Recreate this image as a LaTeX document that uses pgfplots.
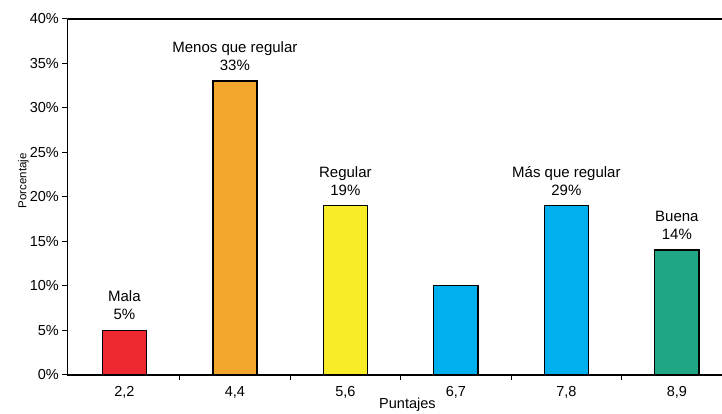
\documentclass[border=0pt]{standalone}
\usepackage{pgfplots}
\pgfplotsset{compat=1.18}
\usepackage{fontspec}
\setmainfont{Liberation Sans}
\definecolor{cred}{RGB}{237,41,47}
\definecolor{corange}{RGB}{243,167,45}
\definecolor{cyellow}{RGB}{248,236,40}
\definecolor{cblue}{RGB}{0,175,236}
\definecolor{cgreen}{RGB}{32,166,132}
\begin{document}
\begin{tikzpicture}[x=1pt,y=1pt]
\useasboundingbox (0,0) rectangle (722,413);
\begin{axis}[
  at={(61,43)}, anchor=south west,
  scale only axis, width=672pt, height=356pt,
  xmin=-0.516, xmax=5.566, ymin=0, ymax=40,
  ybar, bar width=0.4, bar shift=0pt,
  axis x line*=bottom, axis y line*=left,
  x axis line style={line width=1.8pt},
  y axis line style={line width=1.3pt},
  tick align=outside,
  xtick={0,1,2,3,4,5},
  xticklabels={{2,2},{4,4},{5,6},{6,7},{7,8},{8,9}},
  xticklabel style={yshift=-3pt},
  major x tick style={draw=none},
  minor xtick={0.5,1.5,2.5,3.5,4.5,5.5},
  minor x tick style={line width=0.8pt, black},
  minor tick length=5pt,
  ytick={0,5,...,40},
  yticklabel={\pgfmathprintnumber{\tick}\%},
  major y tick style={line width=0.8pt, black},
  major tick length=5pt,
  /pgf/number format/assume math mode=true,
  ticklabel style={font=\fontsize{14.5}{16}\selectfont},
  xlabel={Puntajes},
  xlabel style={at={(axis description cs:0.506,0)}, anchor=base, inner sep=0pt, yshift=-34pt, font=\fontsize{14.5}{16}\selectfont},
  ylabel={Porcentaje},
  ylabel style={at={(axis description cs:-0.0655,0.545)}, anchor=center, font=\fontsize{11.5}{13}\selectfont},
  every axis plot/.append style={draw=black, line width=1.4pt},
]
\addplot[fill=cred] coordinates {(0,5)};
\addplot[fill=corange] coordinates {(1,33)};
\addplot[fill=cyellow] coordinates {(2,19)};
\addplot[fill=cblue] coordinates {(3,10)};
\addplot[fill=cblue] coordinates {(4,19)};
\addplot[fill=cgreen] coordinates {(5,14)};
\draw[line width=2pt] (rel axis cs:0,1) -- (rel axis cs:1,1);
\begin{scope}[every node/.style={anchor=south, align=center, inner sep=0pt, yshift=10pt, font=\fontsize{15}{18}\selectfont}]
\node at (axis cs:0,5) {Mala\\5\%};
\node at (axis cs:1,33) {Menos que regular\\33\%};
\node at (axis cs:2,19) {Regular\\19\%};
\node at (axis cs:4,19) {Más que regular\\29\%};
\node at (axis cs:5,14) {Buena\\14\%};
\end{scope}
\end{axis}
\end{tikzpicture}
\end{document}
